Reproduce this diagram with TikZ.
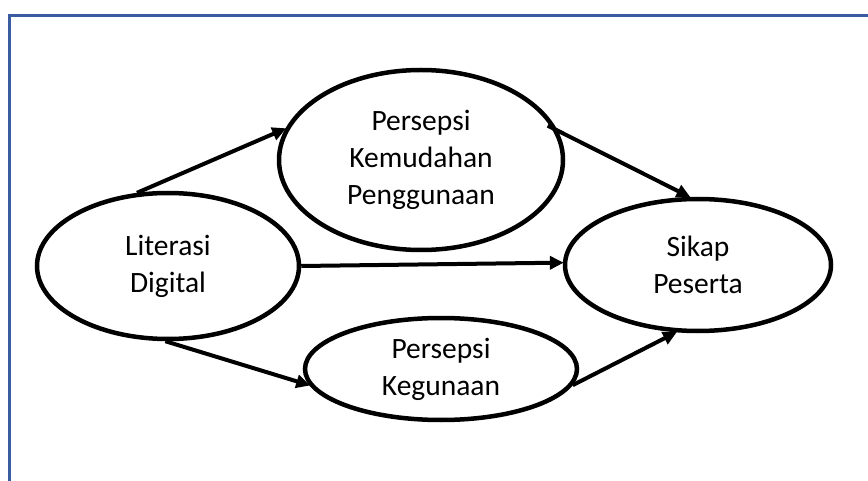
\documentclass[tikz,border=0pt]{standalone}
\usepackage{fontspec}
\setmainfont{Carlito}
\usetikzlibrary{shapes.geometric,arrows.meta,calc}
\definecolor{frameblue}{HTML}{3B5CA0}
\tikzset{
  oval/.style={draw=black, line width=4.5pt, ellipse, inner sep=0pt, align=center,
    font=\fontsize{29.5}{37}\selectfont},
  link/.style={draw=black, line width=4pt, -{Triangle[length=14pt,width=13pt]}, shorten >=-1pt}
}
\begin{document}
\begin{tikzpicture}[x=1pt,y=1pt]
\useasboundingbox (0,0) rectangle (868,480);
\draw[frameblue, line width=3pt] (9.5,-20) -- (9.5,464.5) -- (890,464.5);
\node[oval, minimum width=262pt, minimum height=146pt] (lit) at (168,214) {Literasi\\Digital};
\node[oval, minimum width=284pt, minimum height=180pt] (kem) at (421,320) {Persepsi\\Kemudahan\\Penggunaan};
\node[oval, minimum width=266pt, minimum height=132pt] (sik) at (698,215) {Sikap\\Peserta};
\node[oval, minimum width=272pt, minimum height=102pt] (keg) at (441,111) {Persepsi\\Kegunaan};
\coordinate (kemout) at ($(kem.13)+(-9,3)$);
\draw[link] (lit.113) -- (kem.167);
\draw[link] (lit.0) -- (sik.179);
\draw[link] (kemout) -- (sik.97);
\draw[link] (lit.268) -- (keg.187);
\draw[link] (keg.353) -- (sik.252);
\end{tikzpicture}
\end{document}
